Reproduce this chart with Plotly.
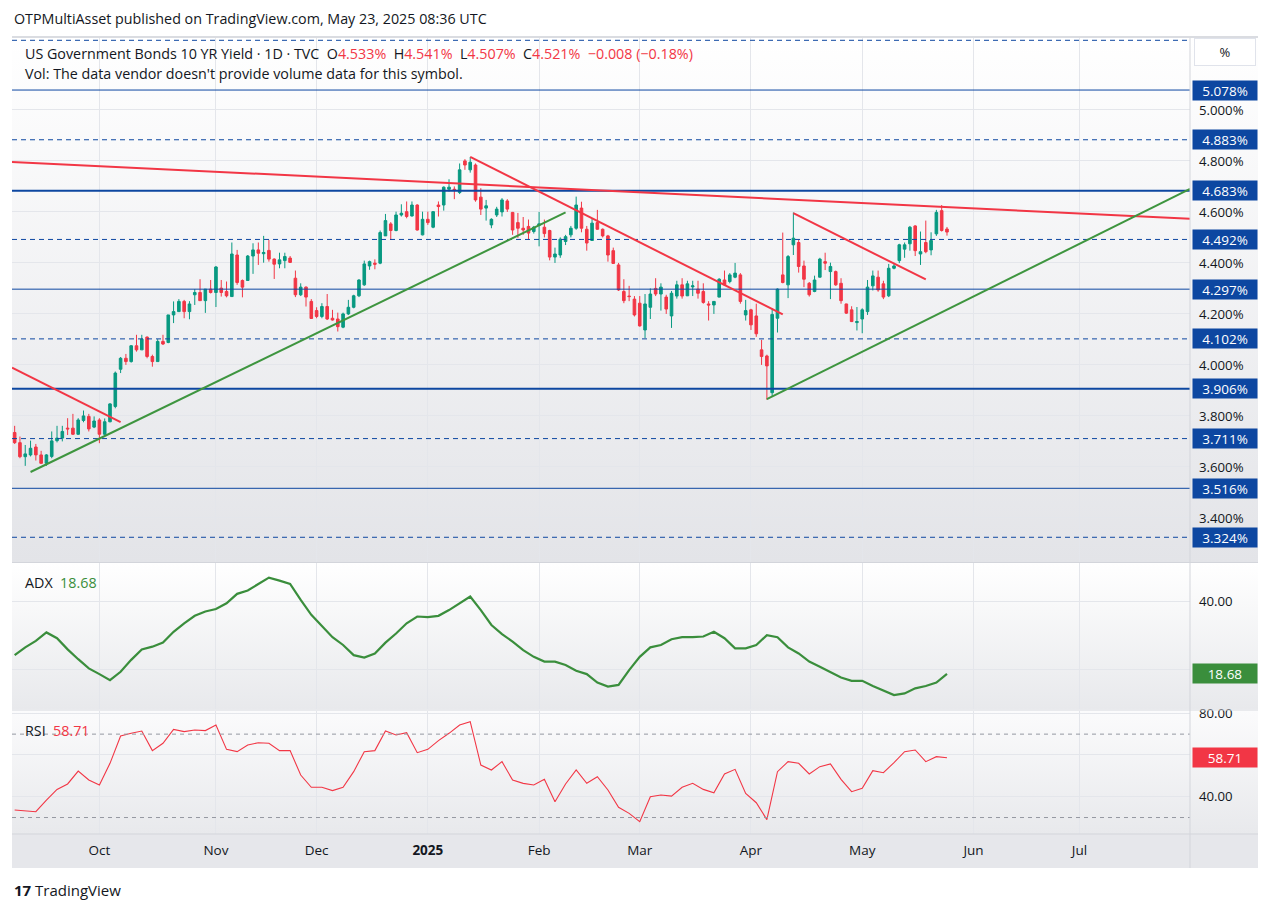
import base64
import pandas as pd
import plotly.graph_objects as go

# ---------------------------------------------------------------- data
holidays = ["2024-10-14", "2024-11-11", "2024-11-28", "2024-12-25", "2025-01-01",
            "2025-01-20", "2025-02-17", "2025-04-18"]
future_holidays = ["2025-05-26", "2025-06-19", "2025-07-04"]
dates = [d.strftime("%Y-%m-%d") for d in pd.bdate_range("2024-09-09", "2025-05-23")
         if d.strftime("%Y-%m-%d") not in holidays]

opens = [
    # Sep
    3.735, 3.695, 3.640, 3.647, 3.678, 3.647, 3.614, 3.641, 3.703, 3.713, 3.752, 3.752, 3.728, 3.782, 3.798, 3.756,
    # Oct
    3.784, 3.728, 3.777, 3.837, 3.983, 4.026, 4.013, 4.075, 4.059, 4.109, 4.033, 4.013, 4.092, 4.088, 4.196, 4.209,
    4.249, 4.209, 4.275, 4.284, 4.252, 4.297,
    # Nov
    4.284, 4.301, 4.288, 4.268, 4.431, 4.331, 4.331, 4.427, 4.451, 4.436, 4.449, 4.415, 4.396, 4.409, 4.419, 4.340,
    4.275, 4.305, 4.249,
    # Dec
    4.213, 4.190, 4.229, 4.183, 4.180, 4.148, 4.200, 4.226, 4.271, 4.314, 4.388, 4.399, 4.399, 4.506, 4.553, 4.527,
    4.588, 4.601, 4.584, 4.627, 4.510,
    # Jan
    4.571, 4.540, 4.627, 4.627, 4.689, 4.689, 4.676, 4.800, 4.765, 4.784, 4.658, 4.615, 4.549, 4.588, 4.600, 4.643,
    4.598, 4.558, 4.536, 4.543, 4.523,
    # Feb
    4.548, 4.540, 4.527, 4.423, 4.431, 4.484, 4.510, 4.536, 4.615, 4.532, 4.488, 4.558, 4.532, 4.506, 4.448, 4.392,
    4.288, 4.270, 4.258,
    # Mar
    4.242, 4.137, 4.226, 4.300, 4.278, 4.266, 4.192, 4.270, 4.314, 4.271, 4.306, 4.297, 4.288, 4.239, 4.235, 4.266,
    4.333, 4.327, 4.344, 4.353, 4.196,
    # Apr
    4.216, 4.192, 4.059, 4.035, 3.891, 4.183, 4.353, 4.314, 4.471, 4.480, 4.388, 4.320, 4.288, 4.344, 4.405, 4.366,
    4.366, 4.320, 4.239, 4.216, 4.166,
    # May
    4.180, 4.209, 4.310, 4.344, 4.318, 4.271, 4.379, 4.409, 4.454, 4.475, 4.545, 4.435, 4.480, 4.451, 4.514, 4.605,
    4.533,
]
highs = [
    3.761, 3.719, 3.686, 3.703, 3.690, 3.663, 3.650, 3.739, 3.761, 3.761, 3.791, 3.808, 3.791, 3.821, 3.808, 3.798,
    3.791, 3.790, 3.850, 3.974, 4.031, 4.043, 4.078, 4.118, 4.118, 4.112, 4.040, 4.101, 4.118, 4.196, 4.249, 4.258,
    4.255, 4.250, 4.297, 4.336, 4.297, 4.333,
    4.388, 4.333, 4.327, 4.480, 4.451, 4.335, 4.431, 4.477, 4.480, 4.506, 4.490, 4.418, 4.440, 4.440, 4.427, 4.370,
    4.320, 4.308, 4.258,
    4.226, 4.242, 4.278, 4.216, 4.205, 4.205, 4.255, 4.275, 4.336, 4.409, 4.409, 4.414, 4.527, 4.592, 4.560, 4.601,
    4.630, 4.641, 4.641, 4.630, 4.601,
    4.601, 4.603, 4.641, 4.700, 4.728, 4.700, 4.790, 4.807, 4.815, 4.790, 4.693, 4.647, 4.575, 4.620, 4.654, 4.650,
    4.600, 4.596, 4.580, 4.570, 4.545,
    4.600, 4.570, 4.530, 4.460, 4.500, 4.510, 4.545, 4.660, 4.640, 4.545, 4.573, 4.608, 4.535, 4.510, 4.460, 4.400,
    4.336, 4.310, 4.270,
    4.270, 4.278, 4.300, 4.340, 4.320, 4.275, 4.290, 4.330, 4.340, 4.330, 4.330, 4.330, 4.320, 4.250, 4.250, 4.340,
    4.370, 4.360, 4.400, 4.360, 4.255,
    4.220, 4.240, 4.098, 4.040, 4.222, 4.300, 4.519, 4.431, 4.598, 4.490, 4.409, 4.325, 4.350, 4.420, 4.440, 4.401,
    4.370, 4.340, 4.240, 4.230, 4.227,
    4.222, 4.333, 4.370, 4.370, 4.330, 4.396, 4.400, 4.475, 4.480, 4.545, 4.548, 4.523, 4.566, 4.520, 4.608, 4.627,
    4.541,
]
lows = [
    3.690, 3.634, 3.604, 3.641, 3.625, 3.612, 3.604, 3.634, 3.696, 3.700, 3.725, 3.725, 3.725, 3.775, 3.739, 3.752,
    3.693, 3.723, 3.775, 3.830, 3.968, 4.000, 4.009, 4.052, 4.059, 4.026, 3.993, 4.013, 4.078, 4.085, 4.164, 4.209,
    4.183, 4.179, 4.235, 4.252, 4.204, 4.280,
    4.227, 4.268, 4.265, 4.268, 4.314, 4.265, 4.331, 4.357, 4.392, 4.401, 4.405, 4.337, 4.379, 4.379, 4.400, 4.266,
    4.270, 4.229, 4.180,
    4.183, 4.183, 4.176, 4.174, 4.131, 4.144, 4.196, 4.222, 4.266, 4.310, 4.373, 4.375, 4.395, 4.506, 4.490, 4.524,
    4.582, 4.575, 4.582, 4.527, 4.508,
    4.549, 4.536, 4.582, 4.605, 4.680, 4.650, 4.670, 4.765, 4.754, 4.640, 4.588, 4.566, 4.536, 4.580, 4.582, 4.600,
    4.510, 4.498, 4.510, 4.490, 4.515,
    4.465, 4.500, 4.410, 4.400, 4.420, 4.470, 4.500, 4.530, 4.520, 4.448, 4.488, 4.530, 4.500, 4.405, 4.396, 4.290,
    4.242, 4.250, 4.190,
    4.150, 4.105, 4.180, 4.270, 4.213, 4.200, 4.145, 4.260, 4.260, 4.270, 4.270, 4.260, 4.240, 4.174, 4.200, 4.265,
    4.310, 4.320, 4.340, 4.240, 4.174,
    4.137, 4.110, 4.000, 3.863, 3.876, 4.127, 4.320, 4.262, 4.431, 4.362, 4.305, 4.268, 4.285, 4.343, 4.372, 4.258,
    4.310, 4.240, 4.200, 4.168, 4.135,
    4.124, 4.196, 4.292, 4.287, 4.258, 4.266, 4.375, 4.399, 4.420, 4.448, 4.427, 4.392, 4.438, 4.430, 4.506, 4.523,
    4.507,
]
closes = [
    3.695, 3.640, 3.651, 3.673, 3.647, 3.614, 3.647, 3.702, 3.713, 3.739, 3.749, 3.728, 3.784, 3.800, 3.749, 3.780,
    3.728, 3.777, 3.847, 3.968, 4.026, 4.013, 4.075, 4.059, 4.101, 4.033, 4.013, 4.092, 4.082, 4.196, 4.209, 4.249,
    4.209, 4.239, 4.284, 4.252, 4.297, 4.284,
    4.384, 4.284, 4.271, 4.435, 4.323, 4.305, 4.427, 4.451, 4.438, 4.441, 4.415, 4.395, 4.412, 4.425, 4.402, 4.275,
    4.305, 4.266, 4.182,
    4.190, 4.229, 4.180, 4.176, 4.150, 4.200, 4.226, 4.271, 4.333, 4.396, 4.405, 4.395, 4.519, 4.566, 4.527, 4.588,
    4.595, 4.582, 4.627, 4.529, 4.571,
    4.558, 4.601, 4.621, 4.697, 4.697, 4.686, 4.765, 4.784, 4.795, 4.647, 4.611, 4.624, 4.571, 4.611, 4.647, 4.611,
    4.529, 4.536, 4.529, 4.517, 4.540,
    4.553, 4.515, 4.423, 4.435, 4.493, 4.503, 4.536, 4.627, 4.536, 4.478, 4.556, 4.532, 4.506, 4.431, 4.398, 4.294,
    4.252, 4.268, 4.196,
    4.153, 4.239, 4.278, 4.278, 4.305, 4.219, 4.281, 4.314, 4.270, 4.318, 4.310, 4.281, 4.245, 4.235, 4.249, 4.336,
    4.314, 4.353, 4.360, 4.249, 4.213,
    4.157, 4.122, 4.033, 3.996, 4.198, 4.297, 4.323, 4.425, 4.497, 4.386, 4.336, 4.275, 4.333, 4.415, 4.399, 4.386,
    4.314, 4.252, 4.203, 4.170, 4.170,
    4.216, 4.305, 4.349, 4.294, 4.266, 4.379, 4.388, 4.471, 4.471, 4.540, 4.448, 4.444, 4.444, 4.488, 4.598, 4.527,
    4.521,
]

# indicators, read every second session
adx = [24.2, 26.5, 28.4, 30.9, 29.2, 25.9, 23.0, 20.3, 18.6, 16.8, 19.3, 22.8, 25.9, 26.7, 27.9, 31.1,
       33.6, 35.8, 37.1, 37.8, 39.5, 42.3, 43.3, 45.2, 47.1, 46.2, 45.2, 40.5, 36.1, 32.8, 29.5, 27.2,
       24.2, 23.5, 24.7, 27.9, 30.6, 33.6, 35.6, 35.4, 35.8, 37.5, 39.5, 41.5, 37.5, 33.1, 30.4, 28.2,
       25.7, 23.7, 22.3, 22.3, 21.3, 19.6, 18.6, 16.1, 14.9, 15.4, 19.8, 23.7, 26.5, 27.2, 28.9, 29.5,
       29.5, 29.7, 31.1, 29.2, 26.2, 26.2, 27.2, 30.1, 29.5, 26.5, 24.7, 22.3, 20.8, 19.3, 17.6, 16.6,
       16.6, 15.1, 13.7, 12.4, 12.9, 14.4, 15.1, 16.1, 18.68]
rsi = [33.6, 33.3, 32.8, 38.4, 43.5, 46.1, 52.3, 48.0, 45.6, 56.0, 69.1, 70.4, 71.5, 62.1, 65.6, 72.3,
       71.2, 72.0, 71.7, 74.4, 62.7, 61.6, 64.8, 65.9, 65.6, 62.1, 62.1, 50.4, 44.5, 44.5, 42.9, 44.5,
       52.0, 61.6, 62.1, 71.5, 69.6, 70.7, 61.1, 62.7, 66.9, 70.4, 74.4, 76.0, 55.2, 52.8, 56.8, 48.0,
       46.4, 45.6, 48.3, 37.6, 46.1, 52.8, 46.4, 49.6, 43.2, 34.9, 32.0, 28.0, 40.0, 40.8, 40.3, 44.5,
       46.4, 43.5, 41.9, 50.9, 53.1, 41.6, 37.1, 29.0, 52.0, 56.8, 56.0, 50.9, 54.4, 55.7, 48.3, 42.4,
       44.0, 52.5, 51.5, 56.3, 61.6, 62.4, 56.8, 59.2, 58.71]
ind_dates = dates[::2]

levels = [5.273, 5.078, 4.883, 4.683, 4.492, 4.297, 4.102, 3.906, 3.711, 3.516, 3.324]
level_kind = ["dash", "solid", "dash", "thick", "dash", "solid", "dash", "thick", "dash", "solid", "dash"]

X_START, X_END = "2024-09-06 12:00", "2025-07-30 21:00"
trendlines = [  # x0, y0, x1, y1, colour name
    (X_START, 4.796, X_END, 4.573, "red"),
    (X_START, 3.989, "2024-10-07", 3.776, "red"),
    ("2025-01-14", 4.816, "2025-04-09", 4.198, "red"),
    ("2025-04-11", 4.595, "2025-05-19", 4.335, "red"),
    ("2024-09-12", 3.580, "2025-02-10", 4.598, "green"),
    ("2025-04-04", 3.866, X_END, 4.690, "green"),
]

month_ticks = ["2024-10-01", "2024-11-01", "2024-12-02", "2025-01-02", "2025-02-03", "2025-03-03",
               "2025-04-01", "2025-05-01", "2025-06-02", "2025-07-01"]
month_text = ["Oct", "Nov", "Dec", "<b>2025</b>", "Feb", "Mar", "Apr", "May", "Jun", "Jul"]
price_ticks = [3.4, 3.6, 3.8, 4.0, 4.2, 4.4, 4.6, 4.8, 5.0]

# ---------------------------------------------------------------- style
W, H = 1274, 913
L, R, T, B = 12, 1190, 37, 834
PH = B - T
FONT = "'Open Sans', Roboto, sans-serif"
UP, DOWN = "#089981", "#F23645"
BLUE = "#0D47A1"
RED_LINE, GREEN_LINE = "#F23645", "#3E953F"
ADX_C, RSI_C = "#3A8E3C", "#F23645"
GRID = "#E4E6EB"
TXT = "#131722"


def py(p):
    return (B - p) / PH


def px(p):
    return (p - L) / (R - L)


main_dom = [py(562), 1.0]
adx_dom = [py(709), py(563)]
rsi_dom = [0.0, py(711)]
RIGHT = px(1258)


def grad(top, bottom):
    svg = ("<svg xmlns='http://www.w3.org/2000/svg' width='10' height='100' viewBox='0 0 10 100' "
           "preserveAspectRatio='none'><defs><linearGradient id='g' x1='0' y1='0' x2='0' y2='1'>"
           f"<stop offset='0' stop-color='{top}'/><stop offset='1' stop-color='{bottom}'/>"
           "</linearGradient></defs><rect width='10' height='100' fill='url(#g)'/></svg>")
    return "data:image/svg+xml;base64," + base64.b64encode(svg.encode()).decode()


fig = go.Figure()
fig.add_trace(go.Candlestick(
    x=dates, open=opens, high=highs, low=lows, close=closes, xaxis="x", yaxis="y",
    increasing=dict(line=dict(color=UP, width=1), fillcolor=UP),
    decreasing=dict(line=dict(color=DOWN, width=1), fillcolor=DOWN),
    whiskerwidth=0, hoverinfo="skip", showlegend=False))
fig.add_trace(go.Scatter(x=ind_dates, y=adx, xaxis="x2", yaxis="y2", mode="lines",
                         line=dict(color=ADX_C, width=2.2), hoverinfo="skip", showlegend=False))
fig.add_trace(go.Scatter(x=ind_dates, y=rsi, xaxis="x3", yaxis="y3", mode="lines",
                         line=dict(color=RSI_C, width=1.1), hoverinfo="skip", showlegend=False))

rb = [dict(bounds=["sat", "mon"]), dict(values=holidays + future_holidays)]
xcommon = dict(type="date", range=[X_START, X_END], rangebreaks=rb, tickvals=month_ticks,
               ticktext=month_text, showgrid=True, gridcolor=GRID, gridwidth=1, zeroline=False,
               showline=False, ticks="", fixedrange=True)
yfont = dict(family=FONT, size=13.2, color=TXT)

shapes = []
for v, k in zip(levels, level_kind):
    shapes.append(dict(type="line", xref="paper", x0=0, x1=1, yref="y", y0=v, y1=v, layer="above",
                       line=dict(color=BLUE, width=2 if k == "thick" else 1,
                                 dash="5px,4px" if k == "dash" else "solid")))
for x0, y0, x1, y1, c in trendlines:
    shapes.append(dict(type="line", xref="x", yref="y", x0=x0, y0=y0, x1=x1, y1=y1, layer="above",
                       line=dict(color=RED_LINE if c == "red" else GREEN_LINE, width=2)))
for v in (70, 30):
    shapes.append(dict(type="line", xref="paper", x0=0, x1=1, yref="y3", y0=v, y1=v, layer="above",
                       line=dict(color="#9598A1", width=1, dash="4px,4px")))
# pane separators, axis strip
shapes.append(dict(type="rect", xref="paper", yref="paper", x0=0, x1=RIGHT, y0=py(868), y1=0,
                   fillcolor="#E6E7EB", line=dict(width=0), layer="below"))
for yy in (py(562.5), py(710), 0):
    shapes.append(dict(type="line", xref="paper", yref="paper", x0=0, x1=RIGHT, y0=yy, y1=yy,
                       line=dict(color="#D3D5DB", width=1), layer="above"))
shapes.append(dict(type="line", xref="paper", yref="paper", x0=1, x1=1, y0=py(868), y1=1,
                   line=dict(color="#D3D5DB", width=1), layer="above"))
shapes.append(dict(type="line", xref="paper", yref="paper", x0=0, x1=RIGHT, y0=1.0, y1=1.0,
                   line=dict(color="#DADCE1", width=2), layer="above"))

images = [
    dict(source=grad("#FFFFFF", "#E3E4E8"), xref="paper", yref="paper", x=0, y=1, sizex=RIGHT,
         sizey=1 - main_dom[0], xanchor="left", yanchor="top", sizing="stretch", layer="below"),
    dict(source=grad("#FFFFFF", "#E8E9EC"), xref="paper", yref="paper", x=0, y=adx_dom[1], sizex=RIGHT,
         sizey=adx_dom[1] - adx_dom[0], xanchor="left", yanchor="top", sizing="stretch", layer="below"),
    dict(source=grad("#FBFBFC", "#E8E9EC"), xref="paper", yref="paper", x=0, y=rsi_dom[1], sizex=RIGHT,
         sizey=rsi_dom[1], xanchor="left", yanchor="top", sizing="stretch", layer="below"),
]

ann = []
for v in levels[1:]:
    ann.append(dict(xref="paper", x=1, xanchor="left", xshift=2, yref="y", y=v, yanchor="middle",
                    text=f"{v:.3f}%", showarrow=False, bgcolor=BLUE, width=62, height=17,
                    font=dict(family=FONT, size=13.5, color="white")))
ann.append(dict(xref="paper", x=1, xanchor="left", xshift=4, yref="paper", y=1, yanchor="top", yshift=-1,
                text="%", showarrow=False, bgcolor="white", bordercolor="#E0E3EB", borderwidth=1,
                width=58, height=24, font=dict(family=FONT, size=13, color=TXT)))
ann.append(dict(xref="paper", x=1, xanchor="left", xshift=2, yref="y2", y=adx[-1], yanchor="middle",
                text=f"{adx[-1]:.2f}", showarrow=False, bgcolor=ADX_C, width=62, height=17,
                font=dict(family=FONT, size=13.5, color="white")))
ann.append(dict(xref="paper", x=1, xanchor="left", xshift=2, yref="y3", y=rsi[-1], yanchor="middle",
                text=f"{rsi[-1]:.2f}", showarrow=False, bgcolor=RSI_C, width=62, height=17,
                font=dict(family=FONT, size=13.5, color="white")))


def tx(text, xp, yp, size=14.3, color=TXT):
    ann.append(dict(xref="paper", yref="paper", x=px(xp), y=py(yp), xanchor="left", yanchor="middle",
                    text=text, showarrow=False, font=dict(family=FONT, size=size, color=color)))


def red(s):
    return f"<span style='color:{DOWN}'>{s}</span>"


tx("OTPMultiAsset published on TradingView.com, May 23, 2025 08:36 UTC", 12, 19, 14.3)
tx("US Government Bonds 10 YR Yield · 1D · TVC  O" + red(f"{opens[-1]:.3f}%") + "  H" +
   red(f"{highs[-1]:.3f}%") + "  L" + red(f"{lows[-1]:.3f}%") + "  C" + red(f"{closes[-1]:.3f}%") +
   "  " + red("−0.008 (−0.18%)"), 23, 53)
tx("Vol: The data vendor doesn't provide volume data for this symbol.", 23, 74)
tx(f"ADX  <span style='color:{ADX_C}'>{adx[-1]:.2f}</span>", 23, 582)
tx(f"RSI  <span style='color:{RSI_C}'>{rsi[-1]:.2f}</span>", 23, 730)
tx("<b>17</b> TradingView", 12, 890, 15)

fig.update_layout(
    width=W, height=H, margin=dict(l=L, r=W - R, t=T, b=H - B),
    paper_bgcolor="white", plot_bgcolor="rgba(0,0,0,0)", showlegend=False,
    font=dict(family=FONT, size=13, color=TXT),
    xaxis=dict(**xcommon, anchor="y", domain=[0, 1], showticklabels=False, rangeslider=dict(visible=False)),
    xaxis2=dict(**xcommon, anchor="y2", domain=[0, 1], matches="x", showticklabels=False),
    xaxis3=dict(**xcommon, anchor="y3", domain=[0, 1], matches="x", showticklabels=True,
                tickfont=dict(family=FONT, size=13.5, color=TXT), ticklabelstandoff=6),
    yaxis=dict(domain=main_dom, anchor="x", side="right", range=[3.227, 5.286], tickvals=price_ticks,
               ticktext=[f"{v:.3f}%" for v in price_ticks], showgrid=True, gridcolor=GRID,
               zeroline=False, tickfont=yfont, ticklabelstandoff=8, fixedrange=True),
    yaxis2=dict(domain=adx_dom, anchor="x2", side="right", range=[8.3, 51.4], tickvals=[20, 40],
                ticktext=[" ", "40.00"], showgrid=True, gridcolor=GRID, zeroline=False,
                tickfont=yfont, ticklabelstandoff=8, fixedrange=True),
    yaxis3=dict(domain=rsi_dom, anchor="x3", side="right", range=[22.1, 81.1], tickvals=[40, 60, 80],
                ticktext=["40.00", " ", "80.00"], showgrid=True, gridcolor=GRID, zeroline=False,
                tickfont=yfont, ticklabelstandoff=8, fixedrange=True),
    shapes=shapes, images=images, annotations=ann,
)

fig.write_html("out.html")
